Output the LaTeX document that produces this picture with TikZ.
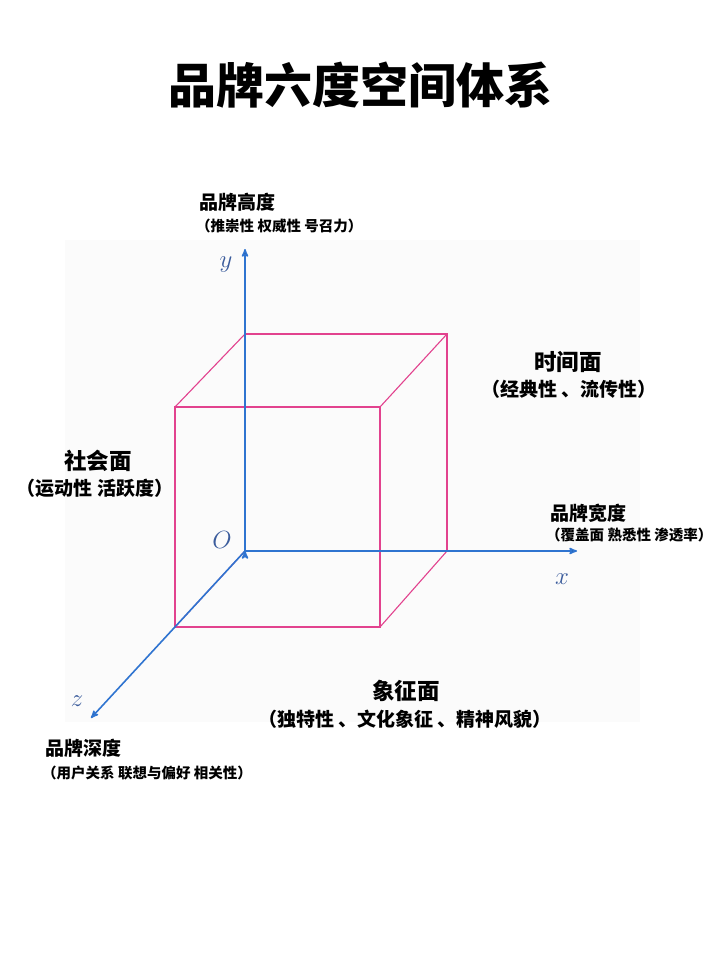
\documentclass[tikz,border=0pt]{standalone}
\usepackage{fontspec}
\setmainfont{Noto Sans CJK SC}
\usetikzlibrary{arrows}

\definecolor{axisblue}{HTML}{2F74D0}
\definecolor{cubepink}{HTML}{E2428E}
\definecolor{letterblue}{HTML}{3B5C9C}

\tikzset{
  axis/.style={draw=axisblue, line width=1.6pt, ->, >=stealth'},
  cube/.style={draw=cubepink, line width=1.1pt},
  axislabel/.style={text=letterblue, font=\fontsize{24}{26}\selectfont},
  facehead/.style={font=\fontsize{22.5}{25}\selectfont\bfseries},
  facesub/.style={font=\fontsize{19}{22}\selectfont\bfseries},
  dimhead/.style={font=\fontsize{19}{22}\selectfont\bfseries, anchor=west, inner sep=0pt},
  dimsub/.style={font=\fontsize{14.5}{17}\selectfont\bfseries, anchor=west, inner sep=0pt}
}

\begin{document}
\begin{tikzpicture}[x=1pt, y=-1pt]
  \useasboundingbox[fill=white] (0,0) rectangle (720,960);
  \fill[black!1.5] (65,240) rectangle (640,722);

  % title
  \node (title) at (360,85) {\fontsize{48}{54}\selectfont\bfseries 品牌六度空间体系};

  % axes end points
  \coordinate (O) at (245,551);
  \coordinate (ytip) at (245,249);
  \coordinate (xtip) at (577,551);
  \coordinate (ztip) at (91,718);

  % cube
  \coordinate (b1) at (245,551); \coordinate (b2) at (447,551);
  \coordinate (b3) at (447,334); \coordinate (b4) at (245,334);
  \coordinate (f1) at (175,627); \coordinate (f2) at (380,627);
  \coordinate (f3) at (380,407); \coordinate (f4) at (175,407);
  \draw[cube] (b1) -- (b2) -- (b3) -- (b4) -- cycle;
  \draw[cube] (f1) -- (f2) -- (f3) -- (f4) -- cycle;
  \draw[cube] (b1) -- (f1) (b2) -- (f2) (b3) -- (f3) (b4) -- (f4);

  \path[axis] (O) edge (ytip)
              edge (xtip)
              edge (ztip);

  \node[axislabel] (ylab) at (226,265) {$y$};
  \node[axislabel] (olab) at (222,540) {$O$};
  \node[axislabel] (xlab) at (562,579) {$x$};
  \node[axislabel] (zlab) at (77,701) {$z$};

  % dimensions
  \node[dimhead] (height) at (199,202) {品牌高度};
  \node[dimsub] (heightsub) at (196,226) {（推崇性 权威性 号召力）};
  \node[dimhead] (width) at (550,513) {品牌宽度};
  \node[dimsub] (widthsub) at (546,535) {（覆盖面 熟悉性 渗透率）};
  \node[dimhead] (depth) at (45,748) {品牌深度};
  \node[dimsub] (depthsub) at (42,773) {（用户关系 联想与偏好 相关性）};

  % faces
  \node[facehead] (time) at (568,362) {时间面};
  \node[facesub] (timesub) at (569,389) {（经典性 、流传性）};
  \node[facehead] (social) at (98,461) {社会面};
  \node[facesub] (socialsub) at (95,488) {（运动性 活跃度）};
  \node[facehead] (symbol) at (406,691) {象征面};
  \node[facesub] (symbolsub) at (405,719) {（独特性 、文化象征 、精神风貌）};
\end{tikzpicture}
\end{document}
